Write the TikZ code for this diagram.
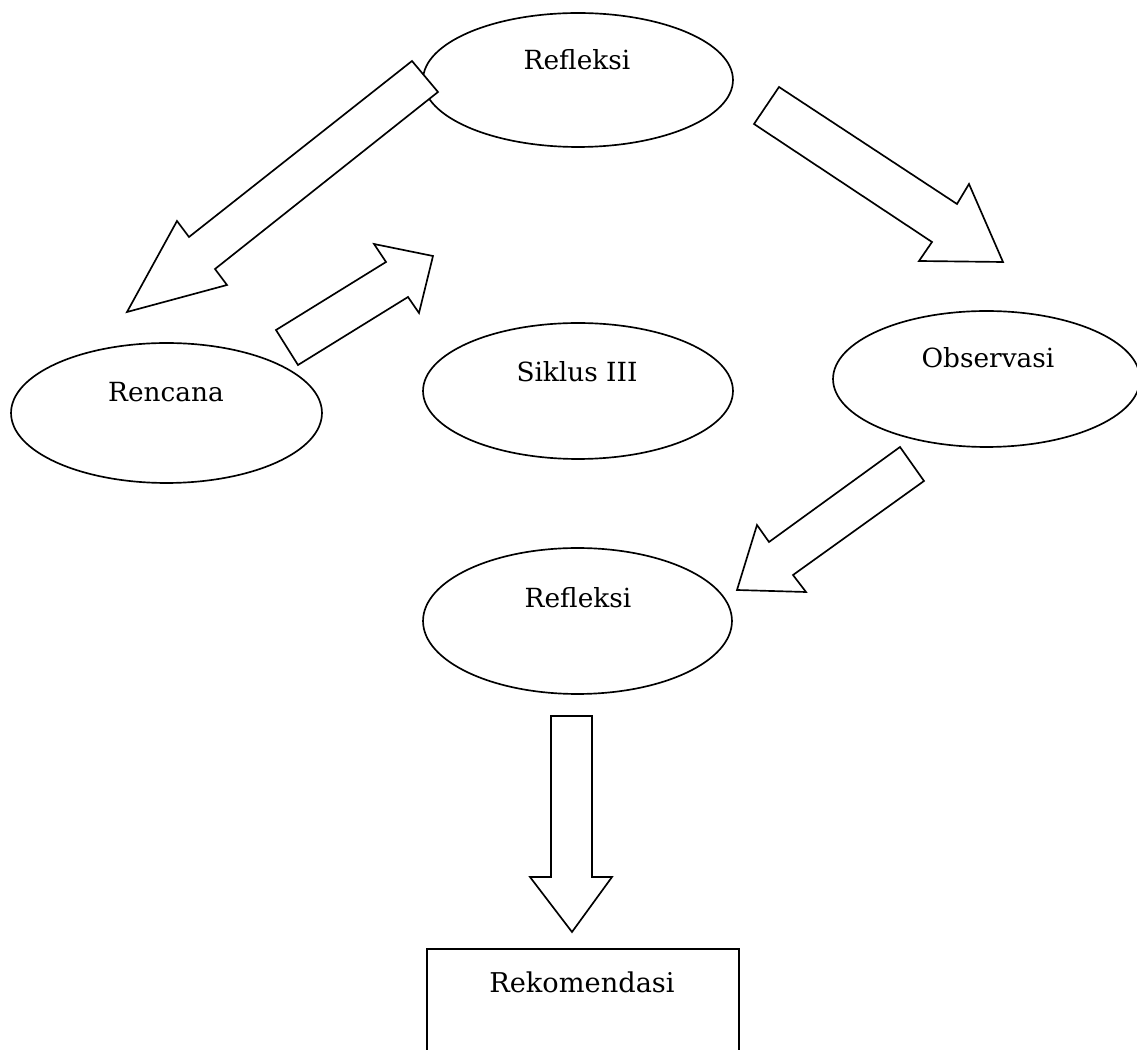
\documentclass[tikz,border=0pt]{standalone}
\usepackage{fontspec}
\setmainfont{DejaVu Serif}
\usepackage{tikz}
\usetikzlibrary{shapes.geometric}
\tikzstyle{stage} = [ellipse, draw=black, line width=0.95pt, minimum width=6.2cm, minimum height=2.72cm, inner sep=0pt]
\tikzstyle{result} = [rectangle, draw=black, line width=0.95pt, minimum width=6.24cm, minimum height=2.62cm, inner sep=0pt]
\tikzstyle{lbl} = [inner sep=0pt, anchor=base, font=\fontsize{15}{18}\selectfont]
\tikzstyle{blockarrow} = [draw=black, fill=white, line width=0.95pt, line join=miter]

\begin{document}
\begin{tikzpicture}[x=0.02cm, y=-0.02cm]
\clip (0,0) rectangle (1137,1050);
\fill[white] (0,0) rectangle (1137,1050);
% ellipses
\node (refl) [stage, minimum height=2.68cm] at (578,80) {};
\node (renc) [stage, minimum width=6.22cm, minimum height=2.8cm] at (166.5,413) {};
\node (siklus) [stage] at (578,391) {};
\node (obs) [stage, minimum width=6.14cm] at (986.5,379) {};
\node (reflb) [stage, minimum width=6.18cm, minimum height=2.92cm] at (577.5,621) {};
\node (rekom) [result] at (583,1014.5) {};
% labels
\node (refltxt) [lbl] at (577,70) {Refleksi};
\node (renctxt) [lbl] at (166,402) {Rencana};
\node (sikltxt) [lbl] at (577,382) {Siklus III};
\node (obstxt) [lbl] at (988,368) {Observasi};
\node (refbtxt) [lbl] at (578,608) {Refleksi};
\node (rekotxt) [lbl, font=\fontsize{15.5}{18}\selectfont] at (582,992) {Rekomendasi};
% block arrows
\draw [blockarrow] (412,61) -- (438,92) -- (215,269) -- (227,285) -- (127,312) -- (177,221) -- (189,237) -- cycle;
\draw [blockarrow] (276,330) -- (298,365) -- (408,297) -- (419,313) -- (433,256) -- (374,244) -- (386,262) -- cycle;
\draw [blockarrow] (779,87) -- (754,124) -- (932,242) -- (919,261) -- (1003,262) -- (969,184) -- (957,204) -- cycle;
\draw [blockarrow] (900,447) -- (924,481) -- (793,575) -- (806,592) -- (737,590) -- (757,525) -- (769,542) -- cycle;
\draw [blockarrow] (551,716) -- (592,716) -- (592,877) -- (612,877) -- (572,932) -- (530,877) -- (551,877) -- cycle;
\end{tikzpicture}
\end{document}
